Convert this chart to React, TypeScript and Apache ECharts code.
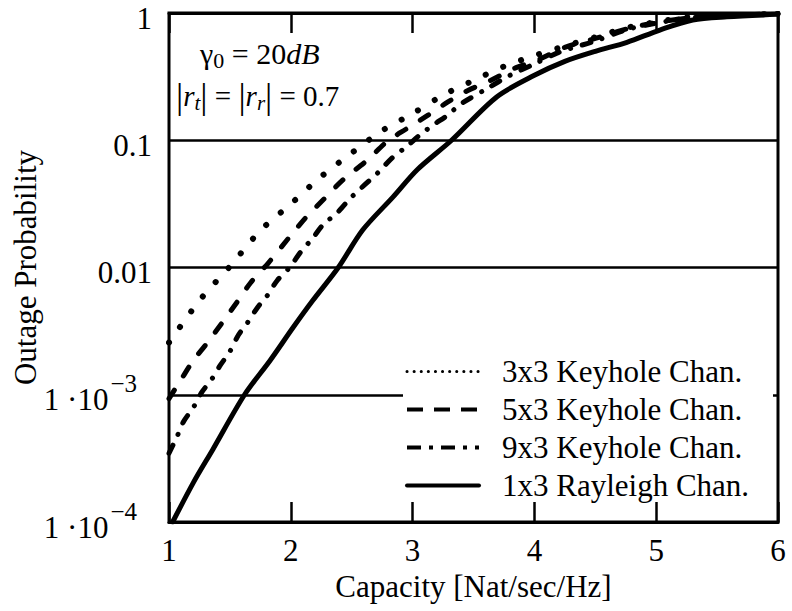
import React, { useEffect, useRef } from "react";
import * as echarts from "echarts";

const SERIF = "'Liberation Serif', 'Times New Roman', serif";

const SERIES_NAMES = ["3x3 Keyhole Chan.", "5x3 Keyhole Chan.", "9x3 Keyhole Chan.", "1x3 Rayleigh Chan."];

const X_TICKS = [1, 2, 3, 4, 5, 6];
const Y_TICKS = [1e-4, 1e-3, 1e-2, 1e-1, 1];

const CAP_3x3 = [1.0, 1.25, 1.5, 1.75, 2.0, 2.25, 2.5, 2.75, 3.0, 3.25, 3.5, 3.75, 4.0, 4.25, 4.5, 4.75, 5.0, 5.3, 5.6, 6.0];
const P_3x3 = [0.00257, 0.0055, 0.0102, 0.0195, 0.0316, 0.0519, 0.0794, 0.119, 0.162, 0.226, 0.295, 0.38, 0.462, 0.55, 0.646, 0.762, 0.851, 0.933, 0.955, 0.989];

const CAP_5x3 = [1.0, 1.1, 1.2, 1.32, 1.44, 1.56, 1.67, 1.81, 1.99, 2.13, 2.28, 2.43, 2.63, 2.79, 2.95, 3.13, 3.29, 3.45, 3.64, 3.85, 4.05, 4.25, 4.5, 4.76, 5.0, 5.3, 5.6, 6.0];
const P_5x3 = [0.000933, 0.00132, 0.00186, 0.0026, 0.00372, 0.00537, 0.00759, 0.0107, 0.0174, 0.0251, 0.0351, 0.049, 0.07, 0.0977, 0.123, 0.158, 0.2, 0.245, 0.295, 0.372, 0.437, 0.537, 0.631, 0.75, 0.841, 0.923, 0.955, 0.989];

const CAP_9x3 = [1.0, 1.07, 1.12, 1.2, 1.27, 1.35, 1.42, 1.5, 1.57, 1.64, 1.73, 1.8, 1.89, 1.99, 2.08, 2.18, 2.26, 2.39, 2.5, 2.72, 2.83, 2.95, 3.06, 3.17, 3.29, 3.39, 3.6, 3.8, 4.0, 4.2, 4.5, 4.76, 5.0, 5.3, 5.6, 6.0];
const P_9x3 = [0.000347, 0.000479, 0.000617, 0.000794, 0.00105, 0.00132, 0.0017, 0.00219, 0.00295, 0.00363, 0.0049, 0.00589, 0.00794, 0.01, 0.0132, 0.017, 0.0214, 0.0275, 0.0359, 0.0562, 0.0724, 0.0891, 0.11, 0.132, 0.158, 0.191, 0.251, 0.324, 0.398, 0.49, 0.603, 0.741, 0.832, 0.923, 0.955, 0.989];

const CAP_RAY = [1.03, 1.2, 1.36, 1.62, 1.83, 2.02, 2.18, 2.39, 2.59, 2.84, 3.04, 3.32, 3.69, 4.0, 4.25, 4.5, 4.76, 5.03, 5.3, 5.58, 6.0];
const P_RAY = [0.0001, 0.000204, 0.000372, 0.001, 0.00186, 0.00339, 0.0055, 0.01, 0.0197, 0.0359, 0.0589, 0.1, 0.219, 0.324, 0.417, 0.5, 0.589, 0.735, 0.881, 0.933, 0.977];

const zip = (xs: number[], ys: number[]) => xs.map((x, i) => [x, ys[i]]);

const yLabel = (v: number) => {
  const e = Math.round(Math.log10(v));
  if (e === 0) return "{a|1}";
  if (e === -1) return "{a|0.1}";
  if (e === -2) return "{a|0.01}";
  return "{a|1 ·10}{s|−" + String(-e) + "}";
};

export default function App() {
  const ref = useRef<HTMLDivElement>(null);
  useEffect(() => {
    if (!ref.current) return;
    const chart = echarts.init(ref.current, null, { renderer: "svg" });
    const black = "#000";
    const lineSeries = (name: string, data: number[][], type: any, width: number) => ({
      name,
      type: "line",
      data,
      symbol: "none",
      smooth: 0.3,
      z: 3,
      lineStyle: { color: black, width, type, cap: "round", join: "round" },
      itemStyle: { color: black },
    });
    chart.setOption({
      animation: false,
      backgroundColor: "#fff",
      grid: {
        left: 169, right: 14, top: 13, bottom: 89,
        outerBoundsMode: "none",
        containLabel: false,
        show: true, borderColor: black, borderWidth: 3, backgroundColor: "transparent",
      },
      xAxis: [
        {
          type: "value",
          min: X_TICKS[0],
          max: X_TICKS[X_TICKS.length - 1],
          interval: 1,
          position: "bottom",
          name: "Capacity [Nat/sec/Hz]",
          nameLocation: "middle",
          nameGap: 47,
          nameTextStyle: { fontFamily: SERIF, fontSize: 31, color: black },
          axisLine: { show: true, onZero: false, lineStyle: { color: black, width: 3 } },
          axisTick: { show: true, inside: true, length: 20, lineStyle: { color: black, width: 2.5 } },
          splitLine: { show: false },
          axisLabel: { fontFamily: SERIF, fontSize: 31, color: black, margin: 13, formatter: (v: number) => String(v) },
          z: 5,
        },
        {
          type: "value",
          min: X_TICKS[0],
          max: X_TICKS[X_TICKS.length - 1],
          interval: 1,
          position: "top",
          axisLine: { show: true, onZero: false, lineStyle: { color: black, width: 3 } },
          axisTick: { show: true, inside: true, length: 20, lineStyle: { color: black, width: 2.5 } },
          splitLine: { show: false },
          axisLabel: { show: false },
          z: 5,
        },
      ],
      yAxis: {
        type: "log",
        logBase: 10,
        min: Y_TICKS[0],
        max: Y_TICKS[Y_TICKS.length - 1],
        name: "Outage Probability",
        nameLocation: "middle",
        nameGap: 128,
        nameMoveOverlap: false,
        nameRotate: 90,
        nameTextStyle: { fontFamily: SERIF, fontSize: 31, color: black },
        axisLine: { show: false },
        axisTick: { show: false },
        axisLabel: {
          margin: 17,
          formatter: yLabel,
          rich: {
            a: { fontFamily: SERIF, fontSize: 31, color: black, lineHeight: 31, padding: [10, 0, 0, 0] },
            s: { fontFamily: SERIF, fontSize: 25, color: black, padding: [0, 15, 22, 2] },
          },
        },
        splitLine: { show: true, lineStyle: { color: black, width: 2.5 } },
      },
      legend: {
        orient: "vertical",
        left: 405,
        top: 356,
        padding: 0,
        itemWidth: 72,
        itemHeight: 10,
        itemGap: 7,
        selectedMode: false,
        z: 10,
        textStyle: { fontFamily: SERIF, fontSize: 31, color: black, lineHeight: 30, padding: [0, 0, 0, 18] },
        data: [
          { name: SERIES_NAMES[0], itemStyle: { opacity: 0 }, lineStyle: { type: [0.1, 7], width: 3, cap: "round", color: black } },
          { name: SERIES_NAMES[1], itemStyle: { opacity: 0 }, lineStyle: { type: [16, 11], width: 4, cap: "butt", color: black } },
          { name: SERIES_NAMES[2], itemStyle: { opacity: 0 }, lineStyle: { type: [14, 8, 4, 8], width: 4, cap: "butt", color: black } },
          { name: SERIES_NAMES[3], itemStyle: { opacity: 0 }, lineStyle: { type: "solid", width: 4, color: black } },
        ],
      },
      graphic: [
        { type: "rect", z: 1, shape: { x: 403, y: 352, width: 370, height: 150 }, style: { fill: "#fff" } },
        {
          type: "text",
          z: 5,
          x: 200,
          y: 35,
          style: {
            text: "{g|γ}{sb|0}{n| = 20}{i|dB}",
            rich: {
              g: { fontFamily: SERIF, fontSize: 30, fill: black, verticalAlign: "middle", lineHeight: 34 },
              sb: { fontFamily: SERIF, fontSize: 22, fill: black, verticalAlign: "middle", padding: [14, 0, 0, 0] },
              n: { fontFamily: SERIF, fontSize: 30, fill: black, verticalAlign: "middle", lineHeight: 34 },
              i: { fontFamily: SERIF, fontSize: 30, fontStyle: "italic", fill: black, verticalAlign: "middle", lineHeight: 34 },
            },
          },
        },
        {
          type: "text",
          z: 5,
          x: 176,
          y: 77,
          style: {
            text: "{b|\u007c}{r|r}{sb|t}{b|\u007c}{n| = }{b|\u007c}{r|r}{sb|r}{b|\u007c}{n| = 0.7}",
            rich: {
              b: { fontFamily: SERIF, fontSize: 36, fill: black, verticalAlign: "middle", lineHeight: 38 },
              r: { fontFamily: SERIF, fontSize: 29, fontStyle: "italic", fill: black, verticalAlign: "middle", lineHeight: 34 },
              sb: { fontFamily: SERIF, fontSize: 21, fontStyle: "italic", fill: black, verticalAlign: "middle", padding: [14, 0, 0, 0] },
              n: { fontFamily: SERIF, fontSize: 29, fill: black, verticalAlign: "middle", lineHeight: 34 },
            },
          },
        },
      ],
      series: [
        lineSeries(SERIES_NAMES[0], zip(CAP_3x3, P_3x3), [0.1, 19], 6),
        lineSeries(SERIES_NAMES[1], zip(CAP_5x3, P_5x3), [10, 17], 5),
        lineSeries(SERIES_NAMES[2], zip(CAP_9x3, P_9x3), [9, 12, 0.1, 12], 5),
        lineSeries(SERIES_NAMES[3], zip(CAP_RAY, P_RAY), "solid", 5),
      ],
    });
    return () => chart.dispose();
  }, []);
  return <div ref={ref} style={{ width: 792, height: 611, position: "absolute", left: 0, top: 0 }} />;
}
